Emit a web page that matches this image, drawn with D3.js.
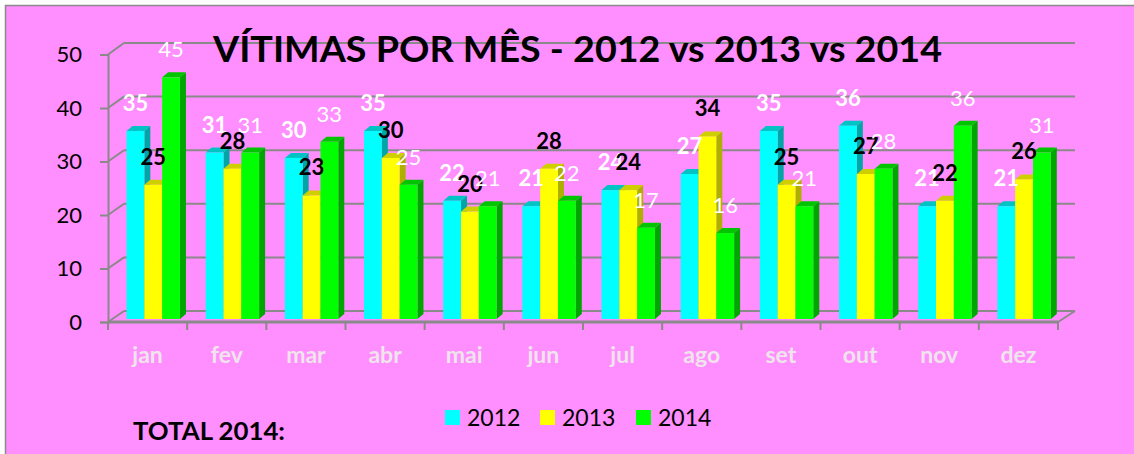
<!DOCTYPE html>
<html>
<head>
<meta charset="utf-8">
<script src="https://cdn.jsdelivr.net/npm/d3@7"></script>
<style>
  html, body { margin: 0; padding: 0; background: #fff; }
  svg { display: block; }
  text { font-family: Lato, "Open Sans", "Liberation Sans", sans-serif; }
</style>
</head>
<body>
<script>
const months = ["jan","fev","mar","abr","mai","jun","jul","ago","set","out","nov","dez"];
const seriesNames = ["2012","2013","2014"];
const v2012 = [35,31,30,35,22,21,24,27,35,36,21,21];
const v2013 = [25,28,23,30,20,28,24,34,25,27,22,26];
const v2014 = [45,31,33,25,21,22,17,16,21,28,36,31];
const yTicks = [0,10,20,30,40,50];
const titleText = "VÍTIMAS POR MÊS - 2012 vs 2013 vs 2014";
const totalText = "TOTAL 2014:";

const W = 1134, H = 454;
const svg = d3.select("body").append("svg").attr("width", W).attr("height", H);

// background
svg.append("rect").attr("x", 0).attr("y", 0).attr("width", W).attr("height", H).attr("fill", "#ffffff");
svg.append("rect").attr("x", 5.5).attr("y", 5.5).attr("width", W + 10).attr("height", H + 10)
  .attr("fill", "#FF8EFF").attr("stroke", "#8a8a8a").attr("stroke-width", 1.5);

// scales
const x = d3.scaleBand().domain(months).range([108, 1058]).paddingInner(0).paddingOuter(0);
const yFront = d3.scaleLinear().domain([0, 50]).range([322, 54.5]);
const yBack = d3.scaleLinear().domain([0, 50]).range([311, 43]);
const yBar = d3.scaleLinear().domain([0, 50]).range([319, 50.5]);
const depthX = 16;
const barDX = 6, barDY = -5;
const gridColor = "#8a8a8a";

const series = [
  {name: "2012", values: v2012, front: "#00FFFF", top: "#00C4C4", side: "#00A6A6", label: "#ffffff", weight: "bold"},
  {name: "2013", values: v2013, front: "#FFFF00", top: "#CFCF00", side: "#AFAF00", label: "#000000", weight: "bold"},
  {name: "2014", values: v2014, front: "#00FF00", top: "#00C400", side: "#00A600", label: "#ffffff", weight: "normal"}
];

// gridlines on back wall + diagonals
const grid = svg.append("g");
yTicks.forEach(t => {
  grid.append("line").attr("x1", 108 + depthX).attr("x2", 1058 + depthX + 1)
    .attr("y1", yBack(t)).attr("y2", yBack(t))
    .attr("stroke", gridColor).attr("stroke-width", 2);
  grid.append("line").attr("x1", 108).attr("y1", yFront(t))
    .attr("x2", 108 + depthX).attr("y2", yBack(t))
    .attr("stroke", gridColor).attr("stroke-width", 2);
});
grid.append("line").attr("x1", 1058).attr("y1", yFront(0)).attr("x2", 1058 + depthX + 1).attr("y2", yBack(0))
  .attr("stroke", gridColor).attr("stroke-width", 2);

// y axis
const yAxis = d3.axisLeft(yFront).tickValues(yTicks).tickSize(8).tickPadding(18).tickFormat(d3.format("d"));
const yg = svg.append("g").attr("transform", "translate(108,0)").call(yAxis);
yg.select(".domain").attr("stroke", gridColor).attr("stroke-width", 2);
yg.selectAll(".tick line").attr("stroke", gridColor).attr("stroke-width", 2);
yg.selectAll(".tick text").attr("fill", "#000").attr("font-size", 22).attr("font-family", "Lato, sans-serif");

// bars
const bw = x.bandwidth();
const off = 0.234 * bw, barW = 0.225 * bw;
const barsG = svg.append("g");
months.forEach((m, i) => {
  series.forEach((s, k) => {
    const v = s.values[i];
    const x0 = x(m) + off + k * barW, x1 = x0 + barW;
    const yt = yBar(v), yb = yBar(0);
    barsG.append("path")
      .attr("d", `M${x1},${yt} L${x1 + barDX},${yt + barDY} L${x1 + barDX},${yb + barDY} L${x1},${yb} Z`)
      .attr("fill", s.side);
    barsG.append("path")
      .attr("d", `M${x0},${yt} L${x0 + barDX},${yt + barDY} L${x1 + barDX},${yt + barDY} L${x1},${yt} Z`)
      .attr("fill", s.top);
    barsG.append("rect").attr("x", x0).attr("y", yt).attr("width", barW).attr("height", yb - yt)
      .attr("fill", s.front);
  });
});

// floor front edge & category ticks
svg.append("line").attr("x1", 108).attr("x2", 1058).attr("y1", yFront(0)).attr("y2", yFront(0))
  .attr("stroke", gridColor).attr("stroke-width", 3);
const ticksX = months.map(m => x(m)).concat([x(months[months.length - 1]) + bw]);
svg.append("g").selectAll("line").data(ticksX).join("line")
  .attr("x1", d => d).attr("x2", d => d).attr("y1", yFront(0)).attr("y2", yFront(0) + 8)
  .attr("stroke", gridColor).attr("stroke-width", 2);

// category labels
svg.append("g").selectAll("text").data(months).join("text")
  .attr("x", d => x(d) + bw / 2).attr("y", 363)
  .attr("text-anchor", "middle").attr("font-size", 23).attr("font-weight", "bold")
  .attr("fill", "#F0E4EC").text(d => d);

// data labels
const labelsG = svg.append("g");
series.forEach((s, k) => {
  labelsG.selectAll(null).data(s.values).join("text")
    .attr("x", (d, i) => x(months[i]) + off + k * barW + barW / 2)
    .attr("y", d => yBar(d) - 20)
    .attr("text-anchor", "middle").attr("font-size", 22).attr("font-weight", s.weight)
    .attr("fill", s.label).text(d => d);
});

// title
svg.append("text").attr("x", 213).attr("y", 62).attr("font-size", 37).attr("font-weight", "bold")
  .attr("fill", "#000").attr("textLength", 729).attr("lengthAdjust", "spacingAndGlyphs").text(titleText);

// legend
const legendX = [445, 540, 636];
const lg = svg.append("g");
series.forEach((s, k) => {
  lg.append("rect").attr("x", legendX[k]).attr("y", 410).attr("width", 15).attr("height", 15).attr("fill", s.front);
  lg.append("text").attr("x", legendX[k] + 22).attr("y", 426).attr("font-size", 23)
    .attr("fill", "#000").text(seriesNames[k]);
});

// total text
svg.append("text").attr("x", 133).attr("y", 440).attr("font-size", 25).attr("font-weight", "bold")
  .attr("fill", "#000").attr("textLength", 152).attr("lengthAdjust", "spacingAndGlyphs").text(totalText);
</script>
</body>
</html>
